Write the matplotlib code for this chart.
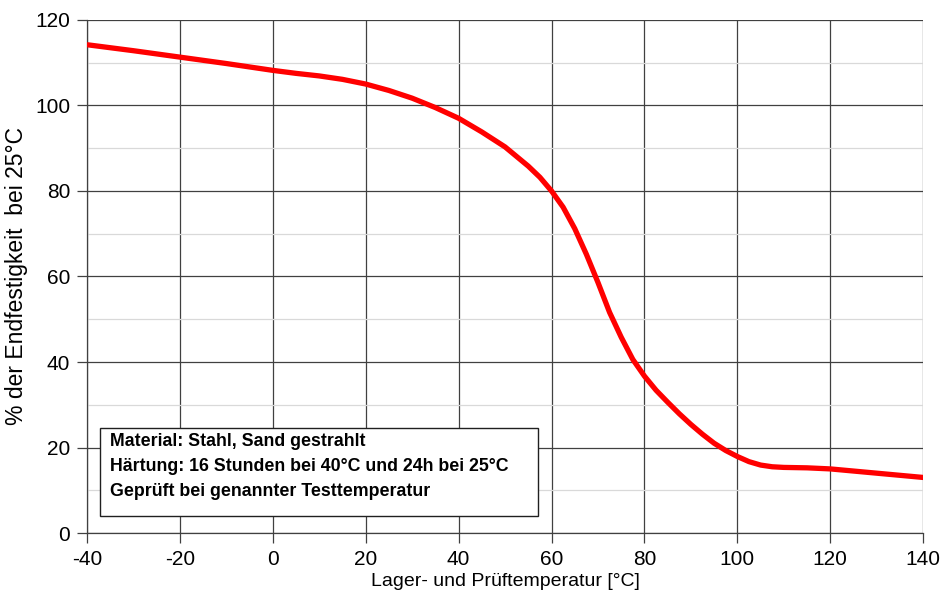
import matplotlib
matplotlib.use("Agg")
import matplotlib.pyplot as plt
from matplotlib.patches import Rectangle
from matplotlib.ticker import MultipleLocator

plt.rcParams["font.family"] = ["Liberation Sans", "DejaVu Sans"]
plt.rcParams["axes.unicode_minus"] = False

# values
temps = [-40, -30, -20, -10, 0, 5, 10, 15, 20, 25, 30, 35, 40, 45, 50, 55,
         57.5, 60, 62.5, 65, 67.5, 70, 72.5, 75, 77.5, 80, 82.5, 85, 87.5, 90,
         92.5, 95, 97.5, 100, 102.5, 105, 107.5, 110, 115, 120, 125, 130, 135,
         140]
strength = [114.2, 112.8, 111.3, 109.8, 108.2, 107.5, 106.9, 106.1, 105.0,
            103.5, 101.7, 99.5, 97.0, 93.8, 90.3, 85.8, 83.2, 80.0, 76.2, 71.2,
            65.2, 58.6, 51.6, 45.8, 40.6, 36.7, 33.4, 30.6, 27.9, 25.4, 23.1,
            21.0, 19.3, 17.9, 16.7, 15.9, 15.5, 15.35, 15.25, 15.0, 14.5, 14.0,
            13.5, 13.0]

info_lines = [
    "Material: Stahl, Sand gestrahlt",
    "Härtung: 16 Stunden bei 40°C und 24h bei 25°C",
    "Geprüft bei genannter Testtemperatur",
]

fig = plt.figure(figsize=(9.44, 6.03), dpi=100)
ax = fig.add_axes([0.092, 0.116, 0.886, 0.851])

ax.plot(temps, strength, color="#ff0000", lw=3.8, solid_capstyle="butt",
        solid_joinstyle="round", zorder=3)

ax.set_xlim(-40, 140)
ax.set_ylim(0, 120)
ax.xaxis.set_major_locator(MultipleLocator(20))
ax.yaxis.set_major_locator(MultipleLocator(20))
ax.yaxis.set_minor_locator(MultipleLocator(10))

ax.grid(True, which="major", color="#404040", lw=0.9)
ax.grid(True, which="minor", axis="y", color="#d9d9d9", lw=0.9)
ax.set_axisbelow(True)

for side in ["top", "right"]:
    ax.spines[side].set_visible(False)
for side in ["left", "bottom"]:
    ax.spines[side].set_color("#404040")
    ax.spines[side].set_linewidth(0.9)

ax.tick_params(which="major", direction="out", length=7, width=0.9,
               color="#404040", labelsize=15, pad=5)
ax.tick_params(which="minor", length=0)

ax.set_xlabel("Lager- und Prüftemperatur [°C]", fontsize=14, labelpad=3)
ax.set_ylabel("% der Endfestigkeit  bei 25°C", fontsize=16.5, labelpad=5)

# annotation box
ax.add_patch(Rectangle((-37.2, 4.0), 94.3, 20.6, facecolor="white",
                       edgecolor="#202020", lw=1.0, zorder=4))
for i, line in enumerate(info_lines):
    ax.text(-35.0, 21.5 - i * 5.95, line, fontsize=12.8, fontweight="bold",
            va="center", ha="left", zorder=5)

fig.savefig("out.png", dpi=100)
